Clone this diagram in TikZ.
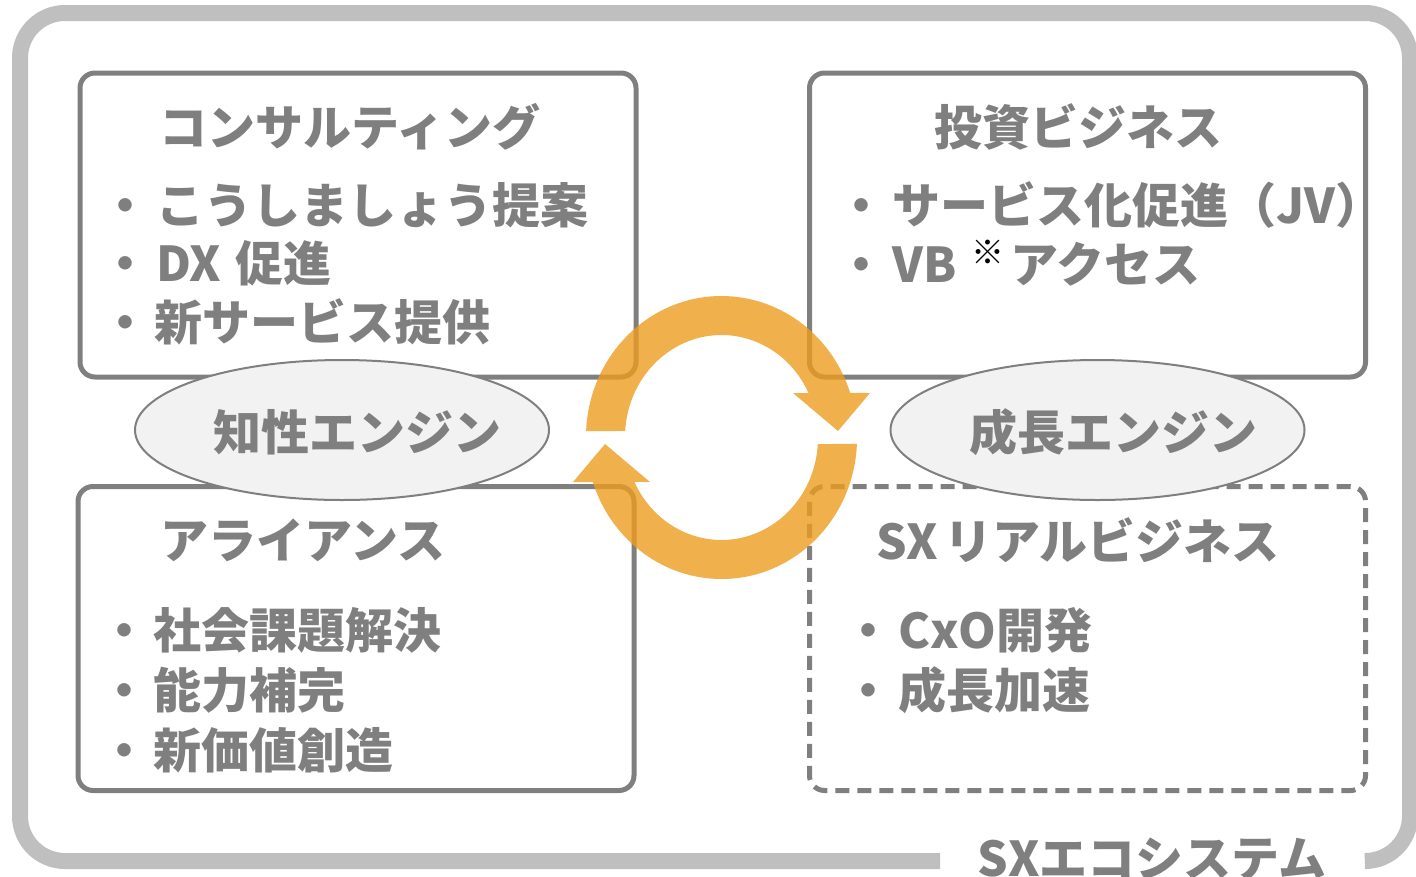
\documentclass[tikz,border=0pt]{standalone}
\usepackage{fontspec}
\setmainfont{Noto Sans CJK JP}
\usetikzlibrary{shapes.geometric}
\definecolor{framegray}{HTML}{BFBFBF}
\definecolor{boxgray}{HTML}{7F7F7F}
\definecolor{ellfill}{HTML}{F2F2F2}
\definecolor{cyc}{RGB}{236,156,30}
\begin{document}
\begin{tikzpicture}[x=1pt,y=-1pt,
  box/.style={draw=boxgray, line width=5pt, rounded corners=15pt, minimum width=556pt, minimum height=304pt, inner sep=0pt},
  dbox/.style={box, dash pattern=on 14pt off 8pt},
  engine/.style={ellipse, draw=boxgray, line width=2pt, fill=ellfill, minimum width=414pt, minimum height=140pt, inner sep=0pt},
  ttl/.style={text=boxgray, font=\fontsize{48}{56}\selectfont\bfseries, inner sep=0pt},
  item/.style={ttl, anchor=west},
  cycarrow/.style={fill=cyc, fill opacity=0.8}
]
\useasboundingbox (0,0) rectangle (1416,876);
% outer frame
\draw[framegray, line width=16pt, rounded corners=45pt] (940,861) -- (20,861) -- (20,13) -- (1410,13) -- (1410,861) -- (1367,861);
% boxes
\node[box] (cons) at (358,225) {};
\node[box] (inv) at (1087.5,225) {};
\node[box] (ally) at (356,638.5) {};
\node[dbox] (sxr) at (1087.5,638.5) {};
% engines
\node[engine] (chisei) at (342,430) {};
\node[engine] (seicho) at (1097.5,430) {};
\node[ttl] (chiseit) at (357,432) {知性エンジン};
\node[ttl] (seichot) at (1113,432) {成長エンジン};
% consulting
\node[ttl] (t1) at (350,127) {コンサルティング};
\node[item] (t1a) at (101,205) {・\hspace{7pt}こうしましょう提案};
\node[item] (t1b) at (101,263) {・\hspace{7pt}DX\hspace{14pt}促進};
\node[item] (t1c) at (101,322) {・\hspace{5pt}新サービス提供};
% investment
\node[ttl] (t2) at (1078,127) {投資ビジネス};
\node[item] (t2a) at (837,205) {・\hspace{7pt}サービス化促進（JV）};
\node[item] (t2b) at (837,263) {・\hspace{7pt}VB\hspace{15pt}\raisebox{18pt}{\fontsize{33}{33}\selectfont\textcolor{black}{※}}\hspace{6pt}アクセス};
% alliance
\node[ttl] (t3) at (303,540) {アライアンス};
\node[item] (t3a) at (100,630) {・\hspace{5pt}社会課題解決};
\node[item] (t3b) at (100,690) {・\hspace{5pt}能力補完};
\node[item] (t3c) at (100,750) {・\hspace{5pt}新価値創造};
% SX real business
\node[ttl] (t4) at (1078,540) {SX\hspace{6pt}リアルビジネス};
\node[item] (t4a) at (844,630) {・\hspace{6pt}CxO開発};
\node[item] (t4b) at (844,690) {・\hspace{6pt}成長加速};
% ecosystem label
\node[ttl] (eco) at (1152,859) {SXエコシステム};
% cycle arrows
\fill[cycarrow] (586.1,431.1) arc[start angle=182.4, end angle=341.8, x radius=135.5, y radius=141]
  -- (870,393) -- (838,431) -- (793,393) -- (808.6,393.1)
  arc[start angle=334.5, end angle=183.4, x radius=96.5, y radius=102] -- cycle;
\fill[cycarrow] (856.9,443.9) arc[start angle=2.4, end angle=161.8, x radius=135.5, y radius=141]
  -- (573,482) -- (605,444) -- (650,482) -- (634.4,481.9)
  arc[start angle=154.5, end angle=3.4, x radius=96.5, y radius=102] -- cycle;
\end{tikzpicture}
\end{document}
